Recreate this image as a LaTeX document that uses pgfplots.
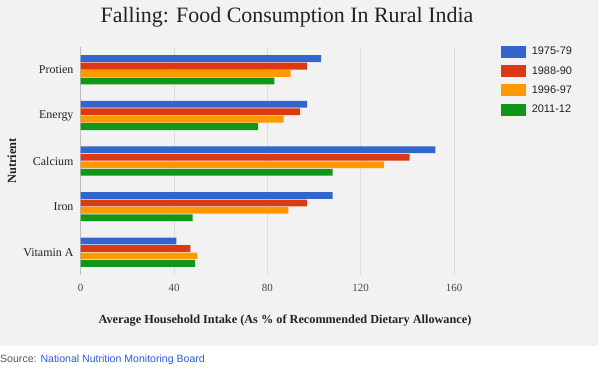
\documentclass[border=0pt]{standalone}
\usepackage{pgfplots}
\pgfplotsset{compat=1.18}
\usepackage{pgfplotstable}
\usepackage{fontspec}
\setmainfont{Liberation Serif}
\newfontfamily\sansf{Liberation Sans}
\definecolor{bgc}{HTML}{F2F2F2}
\definecolor{gridc}{HTML}{DCDCDC}
\definecolor{zeroc}{HTML}{888888}
\definecolor{cA}{HTML}{3366CC}
\definecolor{cB}{HTML}{DC3912}
\definecolor{cC}{HTML}{FF9900}
\definecolor{cD}{HTML}{109618}
\definecolor{srcg}{HTML}{555555}
\definecolor{srcb}{HTML}{2A5DDB}
\definecolor{txt}{HTML}{222222}
\definecolor{tickc}{HTML}{444444}

\pgfplotstableread{
y c1 c2 c3 c4
4 103 97 90 83
3 97 94 87 76
2 152 141 130 108
1 108 97 89 48
0 41 47 50 49
}\data

\begin{document}
\begin{tikzpicture}[x=1bp,y=1bp]
\path[use as bounding box] (0,0) rectangle (608,-375);
\fill[bgc] (0,0) rectangle (598,-345.5);
\node[text=txt,font=\fontsize{22}{26}\selectfont] at (287,-17) {Falling: Food Consumption In Rural India};
\node[text=txt,font=\bfseries\fontsize{12.3}{14}\selectfont] at (285,-321) {Average Household Intake (As \% of Recommended Dietary Allowance)};
\node[text=txt,rotate=90,font=\bfseries\fontsize{12.5}{14}\selectfont] at (12,-161) {Nutrient};
\node[anchor=west,inner sep=0pt,font=\sansf\fontsize{10.6}{12}\selectfont] at (0,-359.5) {\textcolor{srcg}{Source:} \textcolor{srcb}{National Nutrition Monitoring Board}};
\begin{axis}[
  at={(80.67bp,-275bp)}, anchor=south west,
  scale only axis, width=373.33bp, height=228bp,
  xmin=0, xmax=160, ymin=-0.5, ymax=4.5,
  xbar, bar width=6.8bp,
  axis line style={draw=none},
  major tick length=0pt,
  xtick={0,40,80,120,160},
  ytick={0,1,2,3,4},
  yticklabels={Vitamin A,Iron,Calcium,Energy,Protien},
  xmajorgrids, grid style={gridc,line width=1bp},
  /pgf/number format/assume math mode=true,
  xticklabel style={text=tickc,font=\fontsize{11}{13}\selectfont,inner sep=0pt,yshift=-9bp},
  yticklabel style={text=txt,font=\fontsize{12}{14}\selectfont,inner sep=0pt,xshift=-7bp},
  legend style={at={(axis description cs:1.126,1.006)}, anchor=north west, draw=none, fill=none,
    inner sep=0pt, row sep=7.3bp, column sep=6bp, font=\sansf\fontsize{11}{13}\selectfont,
    nodes={inner sep=0pt, text=txt}},
  legend cell align=left,
  legend image code/.code={\path[#1,draw=none] (0bp,-6bp) rectangle (24.5bp,6bp);},
]
\addplot[fill=cA,draw=none,bar shift=11.2bp] table[x=c1,y=y] {\data};
\addplot[fill=cB,draw=none,bar shift=3.7bp] table[x=c2,y=y] {\data};
\addplot[fill=cC,draw=none,bar shift=-3.7bp] table[x=c3,y=y] {\data};
\addplot[fill=cD,draw=none,bar shift=-11.2bp] table[x=c4,y=y] {\data};
\legend{1975-79,1988-90,1996-97,2011-12}
\draw[zeroc,line width=1.6bp] (axis cs:0,-0.5) -- (axis cs:0,4.5);
\end{axis}
\end{tikzpicture}
\end{document}
